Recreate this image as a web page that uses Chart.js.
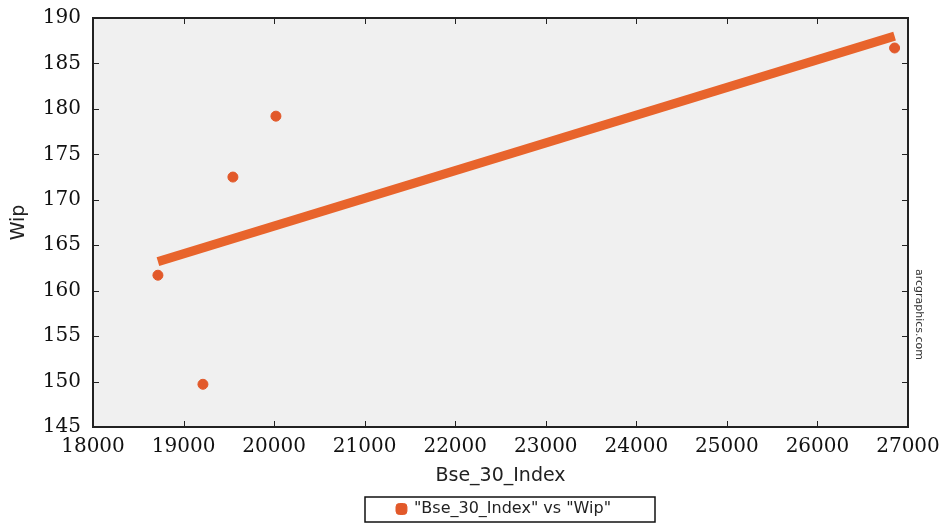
<!DOCTYPE html>
<html>
<head>
<meta charset="utf-8">
<script src="https://cdn.jsdelivr.net/npm/chart.js@4"></script>
<style>
  html, body { margin: 0; padding: 0; background: #fff; }
  #wrap { width: 945px; height: 524px; position: relative; }
</style>
</head>
<body>
<div id="wrap"><canvas id="scatterCanvas"></canvas></div>
<script>
// data
const bseIndex = [18717, 19214, 19545, 20020, 26852];
const wipValues = [161.7, 149.7, 172.5, 179.2, 186.7];
// fitted line end points
const trendX = [18717, 26852];
const trendY = [163.2, 188.0];
const xTicks = [18000, 19000, 20000, 21000, 22000, 23000, 24000, 25000, 26000, 27000];
const yTicks = [145, 150, 155, 160, 165, 170, 175, 180, 185, 190];

const orange = "#e2592a";
const legendMid = 510;

// grey plot area, frame, inward ticks, legend box, watermark
const framePlugin = {
    id: "frame",
    afterLayout(chart) {
        // move the legend under the plot like the original
        const lg = chart.legend;
        const mid = (lg.left + lg.right) / 2;
        const shift = legendMid - 6 - mid;
        lg.left += shift;
        lg.right += shift;
        lg.top += 3;
        lg.bottom += 3;
    },
    beforeDraw(chart) {
        const a = chart.chartArea;
        const ctx = chart.ctx;
        ctx.save();
        ctx.fillStyle = "#f0f0f0";
        ctx.fillRect(a.left, a.top, a.right - a.left, a.bottom - a.top);
        ctx.restore();
    },
    afterDraw(chart) {
        const a = chart.chartArea;
        const ctx = chart.ctx;
        const xs = chart.scales.x, ys = chart.scales.y;
        ctx.save();
        ctx.strokeStyle = "#222";
        ctx.lineWidth = 2;
        ctx.strokeRect(a.left, a.top, a.right - a.left, a.bottom - a.top);
        ctx.lineWidth = 1;
        ctx.beginPath();
        xTicks.forEach(v => {
            const px = Math.round(xs.getPixelForValue(v)) + 0.5;
            ctx.moveTo(px, a.bottom); ctx.lineTo(px, a.bottom - 6);
            ctx.moveTo(px, a.top); ctx.lineTo(px, a.top + 6);
        });
        yTicks.forEach(v => {
            const py = Math.round(ys.getPixelForValue(v)) + 0.5;
            ctx.moveTo(a.left, py); ctx.lineTo(a.left + 6, py);
            ctx.moveTo(a.right, py); ctx.lineTo(a.right - 6, py);
        });
        ctx.stroke();

        // legend border
        ctx.strokeStyle = "#111";
        ctx.lineWidth = 1.5;
        ctx.strokeRect(legendMid - 145, 497, 290, 25);

        // watermark
        ctx.translate(a.right + 5, (a.top + a.bottom) / 2 + 92);
        ctx.rotate(Math.PI / 2);
        ctx.fillStyle = "#333";
        ctx.font = "11px 'DejaVu Sans'";
        ctx.textAlign = "center";
        ctx.textBaseline = "bottom";
        ctx.fillText("arcgraphics.com", 0, 0);
        ctx.restore();
    }
};

const chart = new Chart(document.getElementById("scatterCanvas"), {
    type: "scatter",
    data: {
        datasets: [
            {
                label: "\"Bse_30_Index\" vs \"Wip\"",
                data: bseIndex.map((x, i) => ({ x: x, y: wipValues[i] })),
                backgroundColor: orange,
                borderColor: orange,
                pointRadius: 5,
                pointStyle: "circle",
                order: 1
            },
            {
                label: "trend",
                type: "line",
                data: trendX.map((x, i) => ({ x: x, y: trendY[i] })),
                borderColor: "#e8642c",
                borderWidth: 9,
                pointRadius: 0,
                fill: false,
                order: 2
            }
        ]
    },
    options: {
        responsive: true,
        maintainAspectRatio: false,
        animation: false,
        layout: { padding: { left: 8, right: 37, top: 18, bottom: 0 } },
        scales: {
            x: {
                type: "linear",
                min: 18000,
                max: 27000,
                afterBuildTicks: s => { s.ticks = xTicks.map(v => ({ value: v })); },
                afterFit: s => { s.height = 60; },
                grid: { display: false },
                border: { display: false },
                ticks: {
                    color: "#111",
                    font: { family: "'DejaVu Serif'", size: 20 },
                    padding: 0,
                    maxRotation: 0,
                    callback: v => String(v)
                },
                title: {
                    display: true,
                    text: "Bse_30_Index",
                    color: "#222",
                    font: { family: "'DejaVu Sans'", size: 19 },
                    padding: { top: 0, bottom: 0 }
                }
            },
            y: {
                min: 145,
                max: 190,
                afterBuildTicks: s => { s.ticks = yTicks.map(v => ({ value: v })); },
                afterFit: s => { s.width = 85; },
                grid: { display: false },
                border: { display: false },
                ticks: {
                    color: "#111",
                    font: { family: "'DejaVu Serif'", size: 20 },
                    padding: 4
                },
                title: {
                    display: true,
                    text: "Wip",
                    color: "#222",
                    font: { family: "'DejaVu Sans'", size: 19 },
                    padding: { top: 0, bottom: 4 }
                }
            }
        },
        plugins: {
            legend: {
                position: "bottom",
                labels: {
                    filter: item => item.datasetIndex === 0,
                    usePointStyle: true,
                    pointStyle: "rectRounded",
                    boxWidth: 9,
                    boxHeight: 9,
                    color: "#222",
                    font: { family: "'DejaVu Sans'", size: 16 },
                    padding: 11
                }
            },
            tooltip: { enabled: false }
        }
    },
    plugins: [framePlugin]
});
</script>
</body>
</html>
